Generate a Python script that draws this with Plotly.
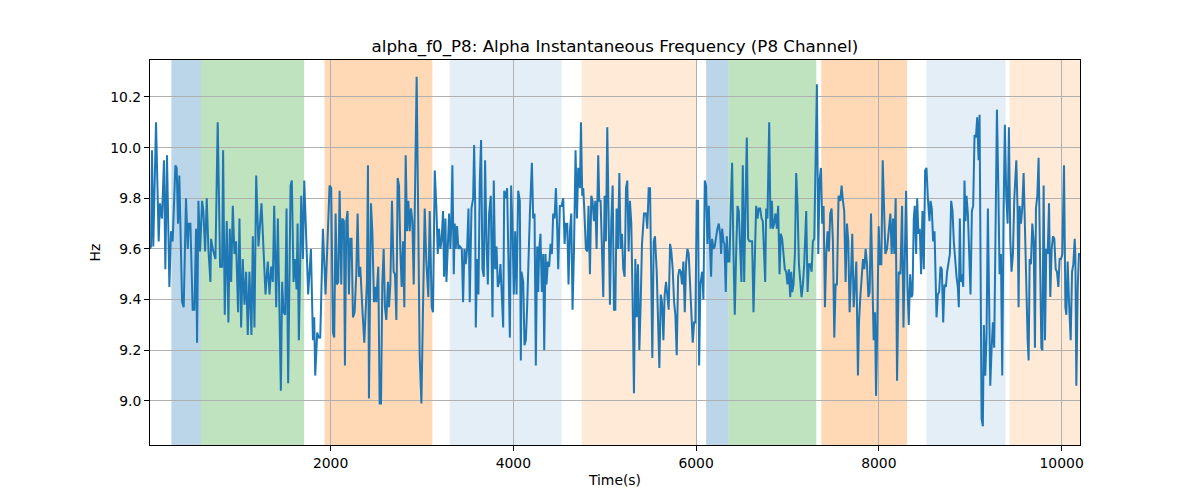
import plotly.graph_objects as go

# ---- data ----
time_s = [
    24, 35, 46, 60, 90, 119, 133, 155, 177, 192, 210, 236, 254, 272, 302, 316, 331, 345, 375, 393,
    418, 437, 448, 466, 491, 510, 528, 539, 554, 572, 594, 608, 627, 645, 663, 685, 692, 711, 740, 765,
    791, 813, 824, 842, 864, 882, 897, 912, 930, 948, 966, 988, 1003, 1021, 1039, 1058, 1076, 1094, 1112, 1134,
    1149, 1167, 1186, 1211, 1244, 1266, 1288, 1313, 1332, 1350, 1368, 1383, 1405, 1423, 1441, 1456, 1470, 1485, 1503, 1518,
    1536, 1562, 1576, 1595, 1609, 1628, 1639, 1653, 1679, 1697, 1712, 1734, 1755, 1785, 1807, 1821, 1832, 1854, 1869, 1887,
    1916, 1945,
    # segment 2
    1989, 2007, 2026, 2040, 2055, 2069, 2084, 2099, 2117, 2128, 2146, 2157, 2172, 2186, 2201, 2215, 2230, 2245, 2263, 2281,
    2296, 2310, 2325, 2347, 2369, 2398, 2409, 2420, 2442, 2457, 2475, 2486, 2500, 2522, 2537, 2552, 2566, 2581, 2595, 2610,
    2628, 2639, 2654, 2672, 2690, 2705, 2720, 2734, 2749, 2763, 2778, 2793, 2807, 2822, 2837, 2851, 2866, 2880, 2895, 2910,
    2924, 2942, 2957, 2975, 2994, 3012, 3030, 3048, 3070, 3085, 3107, 3121, 3140, 3158, 3173, 3187, 3202, 3216, 3231, 3242,
    3257, 3268, 3282, 3297, 3311, 3322, 3333, 3348, 3359, 3370, 3384, 3399, 3414, 3436, 3450, 3465, 3479, 3494, 3509, 3523,
    3542, 3560, 3571, 3582, 3589, 3604, 3618, 3633, 3647, 3662, 3677, 3691, 3706, 3721, 3735, 3753, 3772, 3786, 3801, 3816,
    3830, 3845, 3859, 3870, 3889, 3900, 3918, 3932, 3947, 3962, 3976, 3991, 4005, 4020, 4035, 4053,
    # segment 3
    4071, 4082, 4089, 4108, 4122, 4137, 4151, 4166, 4181, 4203, 4217, 4232, 4246, 4261, 4272, 4283, 4297, 4312, 4327, 4338,
    4352, 4363, 4378, 4392, 4407, 4422, 4436, 4451, 4466, 4480, 4491, 4509, 4528, 4546, 4561, 4575, 4590, 4604, 4619, 4634,
    4648, 4663, 4681, 4696, 4710, 4729, 4740, 4754, 4765, 4776, 4794, 4809, 4823, 4838, 4853, 4867, 4882, 4897, 4911, 4929,
    4940, 4955, 4970, 4984, 4999, 5013, 5028, 5043, 5057, 5072, 5087, 5101, 5116, 5130, 5145, 5160, 5174, 5189, 5203, 5218,
    5233, 5247, 5262, 5276, 5291, 5306, 5320, 5335, 5350, 5364, 5379, 5393, 5408, 5430, 5452, 5466, 5481, 5496, 5510, 5521,
    5536, 5550, 5569, 5583, 5598, 5613, 5627, 5642, 5656, 5671, 5686, 5700, 5715, 5729, 5744, 5759, 5773, 5788, 5803, 5817,
    5832, 5846, 5861, 5876, 5890, 5905, 5919, 5934, 5949, 5963, 5978, 5992, 6007, 6022, 6033, 6047, 6066, 6080, 6095, 6109,
    6124, 6139,
    # segment 4
    6153, 6164, 6175, 6190, 6204, 6219, 6233, 6248, 6263, 6274, 6285, 6299, 6310, 6325, 6336, 6350, 6365, 6379, 6394, 6409,
    6423, 6438, 6453, 6467, 6482, 6496, 6511, 6526, 6540, 6555, 6569, 6584, 6599, 6613, 6628, 6643, 6657, 6672, 6686, 6701,
    6716, 6730, 6745, 6756, 6767, 6781, 6800, 6814, 6829, 6840, 6854, 6869, 6884, 6898, 6913, 6927, 6942, 6957, 6971, 6986,
    7000, 7015, 7030, 7041, 7052, 7066, 7081, 7095, 7110, 7125, 7139, 7154, 7169, 7183, 7205, 7220, 7234, 7249, 7264, 7278,
    7293, 7307, 7322, 7337, 7351, 7366, 7380, 7395, 7410, 7424, 7439, 7453, 7468, 7483, 7497, 7512, 7527, 7541, 7559, 7578,
    7592, 7607, 7621, 7636, 7651, 7665, 7680, 7695, 7709, 7724, 7738, 7753, 7771, 7782, 7797, 7811, 7826, 7841, 7855, 7870,
    7885, 7899, 7914, 7928, 7943, 7958, 7969, 7983, 7998, 8012, 8027, 8042, 8056, 8071, 8089, 8107, 8126, 8140, 8155, 8169,
    8184, 8199, 8217,
    # segment 5
    8236, 8254, 8269, 8283, 8298, 8313, 8327, 8342, 8357, 8368, 8382, 8393, 8408, 8419, 8433, 8448, 8462, 8477, 8492, 8506,
    8521, 8536, 8554, 8565, 8579, 8594, 8609, 8631, 8645, 8660, 8674, 8689, 8704, 8718, 8733, 8747, 8766, 8777, 8791, 8806,
    8820, 8835, 8850, 8864, 8875, 8886, 8897, 8908, 8923, 8937, 8948, 8959, 8974, 8989, 9003, 9018, 9032, 9047, 9062, 9076,
    9091, 9102, 9113, 9124, 9138, 9149, 9164, 9178, 9193, 9204, 9219, 9233, 9248, 9262, 9277, 9292, 9306, 9321, 9336, 9350,
    9365, 9379, 9394, 9409, 9423, 9438, 9452, 9467, 9482, 9496, 9504, 9518, 9529, 9540, 9555, 9569, 9584, 9599, 9613, 9628,
    9639, 9650, 9664, 9679, 9694, 9708, 9719, 9734, 9748, 9763, 9778, 9789, 9803, 9818, 9832, 9847, 9862, 9876, 9891, 9905,
    9920, 9935, 9949, 9964, 9978, 9993, 10008, 10026, 10041, 10052, 10066, 10081, 10099, 10114, 10128, 10143, 10150, 10161, 10176, 10190,
    10201,
]

alpha_hz = [
    9.60, 9.61, 9.99, 9.61, 10.10, 9.63, 9.78, 9.72, 9.95, 9.52, 9.97, 9.45, 9.67, 9.63, 9.93, 9.92, 9.70, 9.89, 9.39, 9.37,
    9.80, 9.60, 9.70, 9.70, 9.36, 9.36, 9.68, 9.23, 9.79, 9.59, 9.79, 9.75, 9.59, 9.80, 9.60, 9.47, 9.64, 9.60, 9.56, 10.10,
    9.53, 9.53, 9.99, 9.34, 9.71, 9.31, 9.68, 9.47, 9.77, 9.58, 9.63, 9.35, 9.72, 9.29, 9.56, 9.38, 9.51, 9.26, 9.51, 9.26,
    9.65, 9.29, 9.89, 9.61, 9.78, 9.56, 9.42, 9.55, 9.42, 9.53, 9.47, 9.77, 9.37, 9.72, 9.31, 9.04, 9.47, 9.35, 9.34, 9.76,
    9.07, 9.85, 9.87, 9.47, 9.56, 9.44, 9.70, 9.24, 9.81, 9.56, 9.87, 9.63, 9.42, 9.60, 9.24, 9.33, 9.10, 9.27, 9.25, 9.25,
    9.68, 9.42,
    # segment 2
    9.85, 9.84, 9.27, 9.25, 9.74, 9.46, 9.47, 9.83, 9.46, 9.72, 9.71, 9.14, 9.71, 9.75, 9.42, 9.64, 9.64, 9.33, 9.35, 9.50,
    9.74, 9.49, 9.53, 9.37, 9.23, 9.47, 9.93, 9.01, 9.78, 9.67, 9.39, 9.45, 9.39, 9.53, 8.99, 8.99, 9.46, 9.60, 9.37, 9.32,
    9.47, 9.37, 9.46, 9.79, 9.51, 9.50, 9.32, 9.88, 9.85, 9.60, 9.45, 9.63, 9.37, 9.97, 9.67, 9.79, 9.67, 9.76, 9.71, 9.46,
    9.85, 10.28, 9.79, 9.18, 8.99, 9.45, 9.76, 9.55, 9.41, 9.75, 9.37, 9.35, 9.91, 9.76, 9.58, 9.68, 9.60, 9.64, 9.75, 9.49,
    9.72, 9.47, 9.58, 9.74, 9.60, 9.71, 9.93, 9.50, 9.70, 9.60, 9.69, 9.60, 9.61, 9.60, 9.39, 9.60, 9.54, 9.60, 9.76, 9.39,
    9.76, 9.80, 10.01, 9.79, 9.29, 9.56, 9.42, 9.87, 10.03, 9.52, 9.49, 9.95, 9.63, 9.46, 9.74, 9.81, 9.33, 9.87, 9.52, 9.61,
    9.45, 9.47, 9.54, 9.46, 9.29, 9.83, 9.80, 9.84, 9.58, 9.25, 9.85, 9.68, 9.42, 9.67, 9.42, 9.83,
    # segment 3
    9.79, 9.16, 9.51, 9.47, 9.22, 9.24, 9.37, 9.58, 9.74, 9.94, 9.72, 9.74, 9.14, 9.61, 9.43, 9.60, 9.66, 9.43, 9.58, 9.20,
    9.58, 9.46, 9.55, 9.53, 9.62, 9.58, 9.74, 9.72, 9.84, 9.68, 9.52, 9.77, 9.77, 9.80, 9.62, 9.70, 9.70, 9.46, 9.67, 9.74,
    9.36, 9.58, 9.99, 9.72, 9.92, 9.84, 10.10, 9.81, 9.84, 9.76, 9.60, 9.59, 9.77, 9.50, 9.81, 9.79, 9.71, 9.79, 9.60, 9.97,
    9.79, 9.79, 9.61, 9.41, 9.81, 9.63, 10.08, 9.58, 9.38, 9.71, 9.85, 9.36, 9.36, 9.76, 9.60, 9.90, 9.60, 9.66, 9.52, 9.49,
    9.84, 9.87, 9.59, 9.79, 9.70, 9.38, 9.03, 9.56, 9.33, 9.54, 9.20, 9.38, 9.62, 9.74, 9.74, 9.68, 9.84, 9.84, 9.45, 9.17,
    9.63, 9.65, 9.51, 9.33, 9.13, 9.42, 9.39, 9.24, 9.42, 9.47, 9.40, 9.36, 9.62, 9.59, 9.52, 9.39, 9.34, 9.18, 9.49, 9.52,
    9.51, 9.46, 9.55, 9.35, 9.54, 9.60, 9.58, 9.45, 9.31, 9.23, 9.31, 9.31, 9.79, 9.79, 9.14, 9.46, 9.51, 9.40, 9.87, 9.85,
    9.62, 9.77,
    # segment 4
    9.60, 9.49, 9.64, 9.60, 9.61, 9.66, 9.68, 9.70, 9.66, 9.58, 9.68, 9.63, 9.62, 9.43, 9.65, 9.55, 9.55, 9.76, 9.94, 9.58,
    9.34, 9.58, 9.77, 9.75, 9.62, 9.47, 9.93, 9.47, 9.77, 10.04, 9.64, 9.63, 9.63, 9.63, 9.35, 9.58, 9.77, 9.72, 9.76, 9.76,
    9.72, 9.71, 9.60, 9.47, 9.76, 9.72, 10.10, 9.68, 9.79, 9.68, 9.70, 9.74, 9.68, 9.77, 9.50, 9.66, 9.64, 9.56, 9.52, 9.51,
    9.46, 9.52, 9.41, 9.51, 9.43, 9.46, 9.58, 9.90, 9.77, 9.54, 9.46, 9.41, 9.46, 9.54, 9.75, 9.43, 9.54, 9.54, 9.51, 9.63,
    9.64, 9.97, 10.25, 9.58, 9.87, 9.92, 9.70, 9.77, 9.37, 9.58, 9.67, 9.59, 9.74, 9.76, 9.63, 9.25, 9.46, 9.46, 9.81, 9.79,
    9.85, 9.79, 9.75, 9.47, 9.70, 9.63, 9.35, 9.50, 9.66, 9.37, 9.45, 9.55, 9.10, 9.31, 9.41, 9.51, 9.56, 9.52, 9.60, 9.54,
    9.41, 9.43, 9.74, 9.50, 9.24, 9.35, 9.02, 9.31, 9.69, 9.54, 9.54, 9.95, 9.71, 9.58, 9.60, 9.66, 9.74, 9.58, 9.72, 9.58,
    9.80, 9.08, 9.51,
    # segment 5
    9.50, 9.77, 9.29, 9.59, 9.83, 9.45, 9.30, 9.50, 9.41, 9.42, 9.72, 9.77, 9.58, 9.80, 9.66, 9.68, 9.50, 9.75, 9.52, 9.91,
    9.92, 9.80, 9.71, 9.79, 9.76, 9.63, 9.67, 9.33, 9.42, 9.43, 9.53, 9.52, 9.31, 9.46, 9.45, 9.51, 9.56, 9.58, 9.79, 9.75,
    9.63, 9.54, 9.49, 9.45, 9.37, 9.72, 9.47, 9.50, 9.45, 9.87, 9.71, 9.81, 9.74, 9.58, 9.42, 9.75, 9.77, 10.05, 10.04, 10.12,
    9.95, 10.13, 9.58, 8.93, 8.90, 9.30, 9.10, 9.25, 9.76, 9.34, 9.06, 9.20, 9.31, 9.21, 9.71, 10.15, 9.87, 9.50, 9.58, 9.10,
    9.75, 10.09, 9.81, 9.70, 10.08, 9.64, 9.51, 9.58, 9.80, 9.93, 9.95, 9.75, 9.37, 9.77, 9.70, 9.76, 9.90, 9.68, 9.41, 9.24,
    9.16, 9.56, 9.54, 9.70, 9.63, 9.21, 9.76, 9.81, 9.96, 9.66, 9.21, 9.20, 9.85, 9.24, 9.60, 9.58, 9.78, 9.41, 9.60, 9.65,
    9.64, 9.52, 9.51, 9.45, 9.56, 9.56, 9.58, 9.93, 9.37, 9.34, 9.55, 9.39, 9.24, 9.51, 9.54, 9.64, 9.58, 9.06, 9.45, 9.58,
    9.58,
]

span_start = [258, 583, 1934, 3304, 4747, 6110, 6354, 7370, 8521, 9430]
span_end = [583, 1711, 3114, 4528, 6000, 6354, 7315, 8309, 9386, 10201]
span_color = [
    "rgba(31,119,180,0.3)", "rgba(44,160,44,0.3)", "rgba(255,127,14,0.3)",
    "rgba(31,119,180,0.12)", "rgba(255,127,14,0.16)",
    "rgba(31,119,180,0.3)", "rgba(44,160,44,0.3)", "rgba(255,127,14,0.3)",
    "rgba(31,119,180,0.12)", "rgba(255,127,14,0.16)",
]

x_ticks = [2000, 4000, 6000, 8000, 10000]
y_ticks = [9.0, 9.2, 9.4, 9.6, 9.8, 10.0, 10.2]

FONT = "DejaVu Sans"
TICK_SIZE = 13.9
TITLE_SIZE = 16.7

fig = go.Figure()
fig.add_trace(go.Scatter(
    x=time_s, y=alpha_hz, mode="lines",
    line=dict(color="#1f77b4", width=2),
    showlegend=False, hoverinfo="skip",
))

for s, e, c in zip(span_start, span_end, span_color):
    fig.add_vrect(x0=s, x1=e, fillcolor=c, line_width=0, layer="below")

fig.update_layout(
    width=1200, height=500,
    margin=dict(l=150, r=120, t=60, b=55),
    paper_bgcolor="white", plot_bgcolor="white",
    font=dict(family=FONT, size=TICK_SIZE, color="black"),
    title=dict(
        text="alpha_f0_P8: Alpha Instantaneous Frequency (P8 Channel)",
        x=0.5, xref="paper", xanchor="center",
        y=1 - 46 / 500, yref="container", yanchor="middle",
        font=dict(family=FONT, size=TITLE_SIZE, color="black"),
    ),
)

fig.update_xaxes(
    range=[24, 10201], tickvals=x_ticks, ticktext=[str(v) for v in x_ticks],
    showgrid=True, gridcolor="#b0b0b0", gridwidth=1,
    showline=True, linecolor="black", linewidth=1, mirror=True,
    ticks="outside", ticklen=5, tickcolor="black", tickwidth=1,
    zeroline=False,
    title=dict(text="Time(s)", font=dict(family=FONT, size=TICK_SIZE), standoff=5),
    tickfont=dict(family=FONT, size=TICK_SIZE),
)
fig.update_yaxes(
    range=[8.826, 10.346], tickvals=y_ticks, ticktext=[f"{v:.1f}" for v in y_ticks],
    showgrid=True, gridcolor="#b0b0b0", gridwidth=1,
    showline=True, linecolor="black", linewidth=1, mirror=True,
    ticks="outside", ticklen=5, tickcolor="black", tickwidth=1,
    zeroline=False,
    title=dict(text="Hz", font=dict(family=FONT, size=TICK_SIZE), standoff=6),
    tickfont=dict(family=FONT, size=TICK_SIZE),
)

fig.write_html(
    "out.html",
    config={"displayModeBar": False},
    post_script="document.body.style.margin='0';document.body.style.overflow='hidden';",
)
